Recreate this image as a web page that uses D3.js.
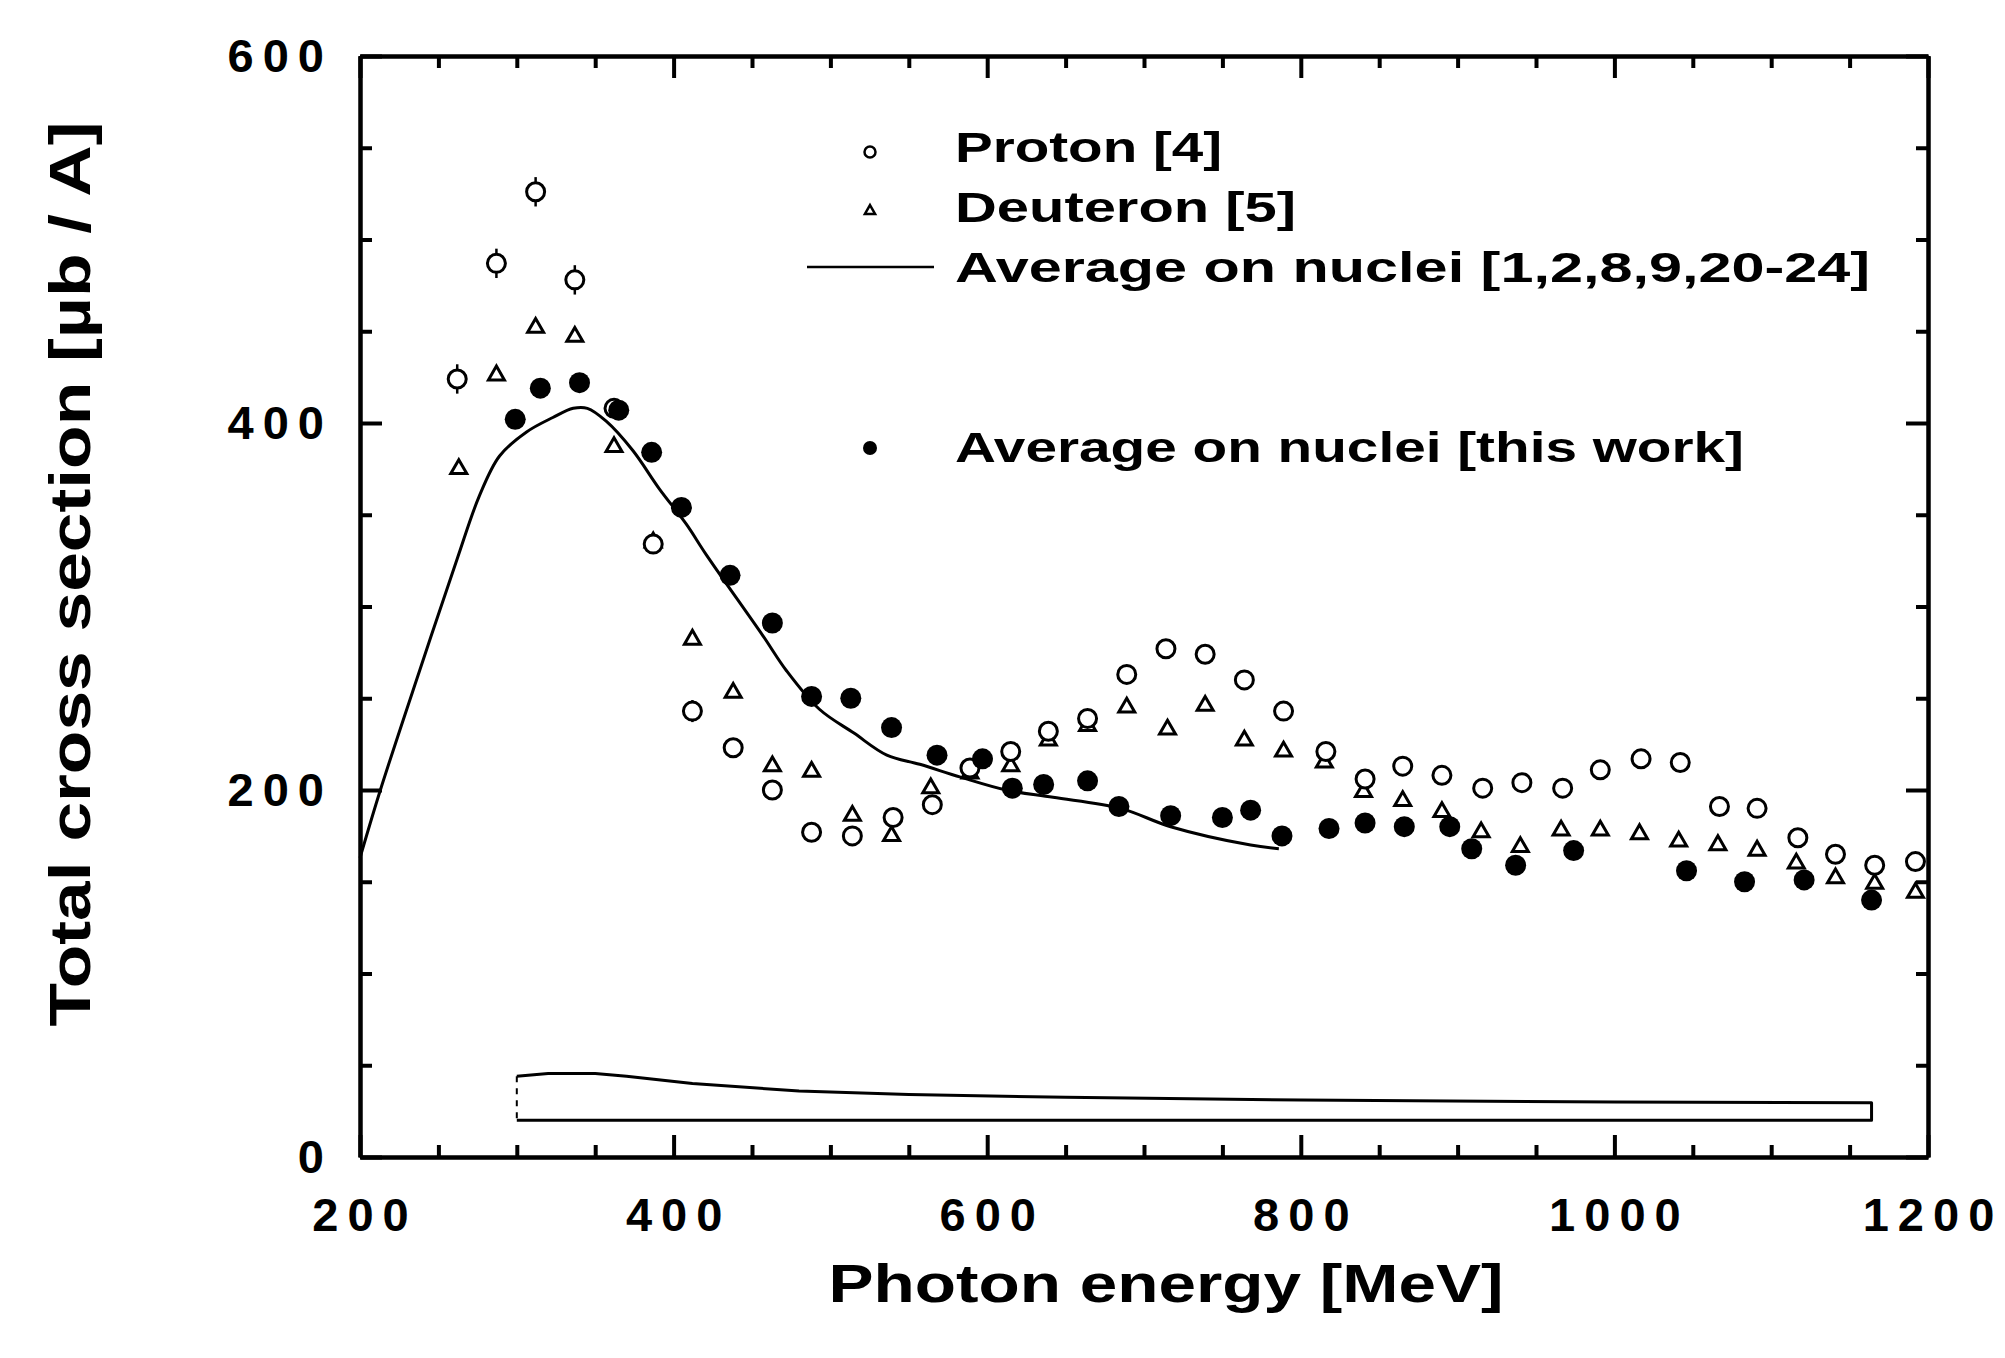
<!DOCTYPE html>
<html>
<head>
<meta charset="utf-8">
<script src="https://d3js.org/d3.v7.min.js"></script>
<style>
  body { margin: 0; background: #fff; }
  text { font-family: "Liberation Sans", Arial, sans-serif; font-weight: bold; fill: #000; }
  .axis path, .axis line { stroke: #000; stroke-width: 4; }
  .axis .minor line { stroke-width: 3; }
</style>
</head>
<body>
<div id="chart"></div>
<script>
// proton data [4] (open circles)
var protonE = [262, 287, 312, 337, 362, 387, 412, 438, 463, 488, 514, 540, 565, 589, 615, 639, 664, 689, 714, 739, 764, 789,
               816, 841, 865, 890, 916, 941, 967, 991, 1017, 1042, 1067, 1091, 1117, 1141, 1166, 1192];
var protonV = [424, 487, 526, 478, 408, 334, 243, 223, 200, 177, 175, 185, 192, 212, 221, 232, 239, 263, 277, 274, 260, 243,
               221, 206, 213, 208, 201, 204, 201, 211, 217, 215, 191, 190, 174, 165, 159, 161];
var protonErr = [8, 8, 8, 8, 0, 0, 6, 0, 0, 0, 0, 0, 0, 0, 0, 0, 0, 0, 0, 0, 0, 0,
                 0, 0, 0, 0, 0, 0, 0, 0, 0, 0, 0, 0, 0, 0, 0, 0];

// deuteron data [5] (open triangles)
var deutE = [263, 287, 312, 337, 362, 387, 412, 438, 463, 488, 514, 539, 564, 589, 615, 639, 664, 689, 715, 739, 764, 789,
             815, 840, 865, 890, 915, 940, 966, 991, 1016, 1041, 1066, 1091, 1116, 1141, 1166, 1192];
var deutV = [375, 426, 452, 447, 387, 335, 282, 253, 213, 210, 186, 175, 201, 209, 213, 227, 235, 245, 233, 246, 227, 221,
             215, 199, 194, 188, 177, 169, 178, 178, 176, 172, 170, 167, 160, 152, 149, 144];

// average on nuclei, this work (filled circles)
var workE = [299, 315, 340, 365, 386, 405, 436, 463, 488, 513, 539, 568, 597, 616, 636, 664, 684, 717, 750, 768, 788,
             818, 841, 866, 895, 909, 937, 974, 1046, 1083, 1121, 1164];
var workV = [402, 419, 422, 407, 384, 354, 317, 291, 251, 250, 234, 219, 217, 201, 203, 205, 191, 186, 185, 189, 175,
             179, 182, 180, 180, 168, 159, 167, 156, 150, 151, 140];

// average on nuclei [1,2,8,9,20-24] (solid curve)
var curveE = [200, 213, 238, 262, 276, 289, 306, 323, 336, 345, 357, 374, 391, 408, 421, 457, 472, 493, 515, 536, 557,
              583, 612, 642, 685, 717, 768, 786];
var curveV = [163, 200, 265, 326, 360, 382, 395, 403, 408, 408, 401, 385, 364, 345, 328, 284, 265, 244, 231, 219, 214,
              207, 200, 196, 190, 180, 170, 168];

// systematic error band at the bottom
var bandE = [300, 320, 350, 370, 412, 480, 550, 650, 800, 1000, 1164];
var bandUpper = [44, 45.5, 45.5, 44, 40, 36, 34, 32.5, 31, 30, 29.5];
var bandLowerE = [300, 1164];
var bandLower = [20, 20];

var xMajor = [200, 400, 600, 800, 1000, 1200];
var xMinor = [250, 300, 350, 450, 500, 550, 650, 700, 750, 850, 900, 950, 1050, 1100, 1150];
var yMajor = [0, 200, 400, 600];
var yMinor = [50, 100, 150, 250, 300, 350, 450, 500, 550];

var legendLabels = ["Proton [4]", "Deuteron [5]", "Average on nuclei [1,2,8,9,20-24]", "Average on nuclei [this work]"];

var width = 2005, height = 1358;
var margin = {top: 56, right: 77, bottom: 201, left: 360};
var w = width - margin.left - margin.right,
    h = height - margin.top - margin.bottom;

var svg = d3.select("#chart").append("svg")
    .attr("width", width)
    .attr("height", height);

var g = svg.append("g").attr("transform", "translate(" + margin.left + "," + margin.top + ")");

var x = d3.scaleLinear().domain([200, 1200]).range([0, w]);
var y = d3.scaleLinear().domain([0, 600]).range([h, 0]);

// axes: minor ticks first, then major with labels
function addAxis(axisFn, scale, minor, major, tr, labels, pad, minorLen, majorLen) {
  g.append("g").attr("class", "axis minor").attr("transform", tr)
    .call(axisFn(scale).tickValues(minor).tickSize(-minorLen).tickSizeOuter(0).tickFormat(""));
  var a = g.append("g").attr("class", "axis").attr("transform", tr)
    .call(axisFn(scale).tickValues(major).tickSize(-majorLen).tickSizeOuter(0).tickPadding(pad)
      .tickFormat(labels ? d3.format("d") : ""));
  a.selectAll("text")
    .style("font-size", "47px")
    .style("letter-spacing", "9px");
  return a;
}

var xb = addAxis(d3.axisBottom, x, xMinor, xMajor, "translate(0," + h + ")", true, 41, 12, 22);
xb.selectAll("text").attr("dx", "4.5px");
addAxis(d3.axisTop, x, xMinor, xMajor, "translate(0,0)", false, 0, 12, 22);
addAxis(d3.axisLeft, y, yMinor, yMajor, "translate(0,0)", true, 27, 12, 22);
addAxis(d3.axisRight, y, yMinor, yMajor, "translate(" + w + ",0)", false, 0, 12, 22);

// axis titles
svg.append("text")
    .attr("x", 1166)
    .attr("y", 1302)
    .attr("text-anchor", "middle")
    .attr("textLength", 675)
    .attr("lengthAdjust", "spacingAndGlyphs")
    .style("font-size", "54px")
    .text("Photon energy [MeV]");

svg.append("text")
    .attr("transform", "translate(90,574) rotate(-90)")
    .attr("text-anchor", "middle")
    .attr("textLength", 905)
    .attr("lengthAdjust", "spacingAndGlyphs")
    .style("font-size", "58px")
    .text("Total cross section [\u00b5b / A]");

var plot = g.append("g");

// error band
var bandPts = bandE.map(function(e, i) { return [e, bandUpper[i]]; })
  .concat(bandLowerE.slice().reverse().map(function(e, i) { return [e, bandLower.slice().reverse()[i]]; }));
var line = d3.line().x(function(d) { return x(d[0]); }).y(function(d) { return y(d[1]); });
plot.append("path")
    .datum(bandPts)
    .attr("d", line)
    .attr("fill", "none")
    .attr("stroke", "#000")
    .attr("stroke-width", 3)
    .attr("stroke-linejoin", "round");
plot.append("line")
    .attr("x1", x(bandE[0])).attr("x2", x(bandE[0]))
    .attr("y1", y(bandUpper[0])).attr("y2", y(bandLower[0]))
    .attr("stroke", "#000")
    .attr("stroke-width", 2)
    .attr("stroke-dasharray", "6,6");

// average curve
var smooth = d3.line().x(function(d) { return x(d[0]); }).y(function(d) { return y(d[1]); })
    .curve(d3.curveCatmullRom.alpha(0.5));
plot.append("path")
    .datum(curveE.map(function(e, i) { return [e, curveV[i]]; }))
    .attr("d", smooth)
    .attr("fill", "none")
    .attr("stroke", "#000")
    .attr("stroke-width", 3);

// deuteron triangles
var tri = d3.symbol().type(d3.symbolTriangle).size(110);
plot.selectAll(".deut")
    .data(deutE.map(function(e, i) { return [e, deutV[i]]; }))
  .enter().append("path")
    .attr("class", "deut")
    .attr("d", tri)
    .attr("transform", function(d) { return "translate(" + x(d[0]) + "," + y(d[1]) + ")"; })
    .attr("fill", "#fff")
    .attr("stroke", "#000")
    .attr("stroke-width", 3);

// proton circles with error bars
var prot = protonE.map(function(e, i) { return [e, protonV[i], protonErr[i]]; });
plot.selectAll(".perr")
    .data(prot.filter(function(d) { return d[2] > 0; }))
  .enter().append("line")
    .attr("x1", function(d) { return x(d[0]); })
    .attr("x2", function(d) { return x(d[0]); })
    .attr("y1", function(d) { return y(d[1] - d[2]); })
    .attr("y2", function(d) { return y(d[1] + d[2]); })
    .attr("stroke", "#000")
    .attr("stroke-width", 2.5);
plot.selectAll(".prot")
    .data(prot)
  .enter().append("circle")
    .attr("cx", function(d) { return x(d[0]); })
    .attr("cy", function(d) { return y(d[1]); })
    .attr("r", 9)
    .attr("fill", "#fff")
    .attr("stroke", "#000")
    .attr("stroke-width", 3);

// this work, filled circles
plot.selectAll(".work")
    .data(workE.map(function(e, i) { return [e, workV[i]]; }))
  .enter().append("circle")
    .attr("cx", function(d) { return x(d[0]); })
    .attr("cy", function(d) { return y(d[1]); })
    .attr("r", 10.5)
    .attr("fill", "#000");

// legend
var legend = svg.append("g");
var legY = [152, 211, 267, 448];
var legBase = [162, 222, 282, 462];
var legLen = [267, 341, 915, 789];
legend.append("circle").attr("cx", 870).attr("cy", legY[0]).attr("r", 5.5)
    .attr("fill", "#fff").attr("stroke", "#000").attr("stroke-width", 2.5);
legend.append("path").attr("d", d3.symbol().type(d3.symbolTriangle).size(45))
    .attr("transform", "translate(870," + legY[1] + ")")
    .attr("fill", "#fff").attr("stroke", "#000").attr("stroke-width", 2.5);
legend.append("line").attr("x1", 807).attr("x2", 934).attr("y1", legY[2]).attr("y2", legY[2])
    .attr("stroke", "#000").attr("stroke-width", 2.5);
legend.append("circle").attr("cx", 870).attr("cy", legY[3]).attr("r", 7).attr("fill", "#000");
legend.selectAll(".lt")
    .data(legendLabels)
  .enter().append("text")
    .attr("x", 955)
    .attr("y", function(d, i) { return legBase[i]; })
    .attr("textLength", function(d, i) { return legLen[i]; })
    .attr("lengthAdjust", "spacingAndGlyphs")
    .style("font-size", "42px")
    .text(function(d) { return d; });
</script>
</body>
</html>
